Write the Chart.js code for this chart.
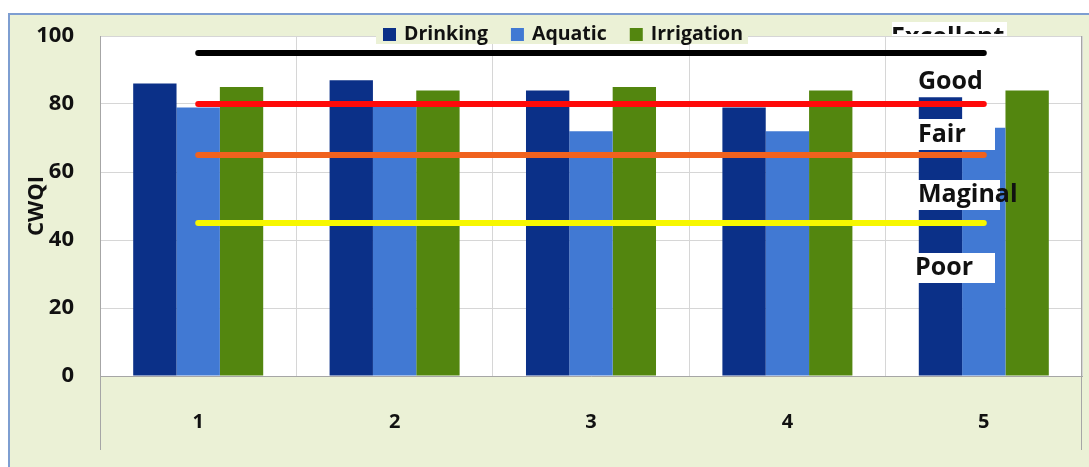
<!DOCTYPE html>
<html>
<head>
<meta charset="utf-8">
<script src="https://cdn.jsdelivr.net/npm/chart.js@4.4.0/dist/chart.umd.min.js"></script>
<style>
  html, body { margin: 0; padding: 0; background: #fff; }
</style>
</head>
<body>
<canvas id="cwqiChart" width="1089" height="467"></canvas>
<script>
// Data
const SITES = ['1', '2', '3', '4', '5'];
const DRINKING = [86, 87, 84, 79, 82];
const AQUATIC = [79, 80, 72, 72, 73];
const IRRIGATION = [85, 84, 85, 84, 84];

// Class boundaries drawn as horizontal lines
const EXCELLENT_LINE = [95, 95, 95, 95, 95];
const GOOD_LINE = [80, 80, 80, 80, 80];
const FAIR_LINE = [65, 65, 65, 65, 65];
const MARGINAL_LINE = [45, 45, 45, 45, 45];

const Y_TICKS = [0, 20, 40, 60, 80, 100];
const BAND_NAMES = ['Excellent', 'Good', 'Fair', 'Maginal', 'Poor'];

const FONT = '"Open Sans", "DejaVu Sans", sans-serif';
const TEXT_COLOR = '#111111';

function boundaryLine(label, data, color) {
    return {
        type: 'line',
        label: label,
        data: data,
        borderColor: color,
        backgroundColor: color,
        borderWidth: 6,
        borderCapStyle: 'round',
        pointRadius: 0,
        fill: false,
        order: 0
    };
}

function bars(label, data, color) {
    return {
        type: 'bar',
        label: label,
        data: data,
        backgroundColor: color,
        borderWidth: 0,
        barPercentage: 1,
        categoryPercentage: 0.662,
        order: 1
    };
}

// Frame, white plot area, legend and class labels
const framePlugin = {
    id: 'frame',
    beforeDraw(chart) {
        const { ctx, chartArea: a } = chart;
        ctx.save();
        ctx.fillStyle = '#ffffff';
        ctx.fillRect(0, 0, chart.width, chart.height);
        ctx.fillStyle = '#EBF1D6';
        ctx.fillRect(8, 13, chart.width - 8, chart.height - 13);
        ctx.strokeStyle = '#7E9ED1';
        ctx.lineWidth = 2;
        ctx.strokeRect(9, 14, chart.width, chart.height);
        ctx.fillStyle = '#ffffff';
        ctx.fillRect(a.left, a.top, a.right - a.left, a.bottom - a.top);
        ctx.restore();
    },
    afterDraw(chart) {
        const { ctx, chartArea: a } = chart;
        ctx.save();

        // axis lines running down into the label band
        ctx.strokeStyle = '#A6A6A6';
        ctx.lineWidth = 1;
        ctx.beginPath();
        ctx.moveTo(a.left + 0.5, a.bottom);
        ctx.lineTo(a.left + 0.5, 450);
        ctx.moveTo(a.right - 0.5, a.top);
        ctx.lineTo(a.right - 0.5, 450);
        ctx.stroke();

        // legend
        ctx.fillStyle = '#EBF1D6';
        ctx.fillRect(376, 18, 372, 26);
        ctx.font = 'bold 19.5px ' + FONT;
        ctx.textBaseline = 'middle';
        let x = 383;
        chart.data.datasets.filter(d => d.type === 'bar').forEach(d => {
            ctx.fillStyle = d.backgroundColor;
            ctx.fillRect(x, 28, 13, 13);
            x += 21;
            ctx.fillStyle = TEXT_COLOR;
            ctx.fillText(d.label, x, 34);
            x += ctx.measureText(d.label).width + 23;
        });

        // class labels in white boxes
        const boxes = [
            { x: 892, y: 22, w: 115, h: 14 },
            { x: 917, y: 70, w: 70, h: 23 },
            { x: 917, y: 119, w: 78, h: 31 },
            { x: 917, y: 180, w: 83, h: 30 },
            { x: 914, y: 253, w: 81, h: 30 }
        ];
        ctx.font = 'bold 25px ' + FONT;
        ctx.textBaseline = 'middle';
        BAND_NAMES.forEach((name, i) => {
            const b = boxes[i];
            ctx.fillStyle = '#ffffff';
            ctx.fillRect(b.x, b.y, b.w, b.h);
            ctx.fillStyle = TEXT_COLOR;
            if (i === 0) {
                ctx.save();
                ctx.beginPath();
                ctx.rect(b.x, b.y, b.w, 12);
                ctx.clip();
                ctx.fillText(name, 891, 38);
                ctx.restore();
            } else {
                ctx.fillText(name, b.x + 1, b.y + b.h / 2);
            }
        });

        ctx.restore();
    }
};

const ctx = document.getElementById('cwqiChart').getContext('2d');
new Chart(ctx, {
    data: {
        labels: SITES,
        datasets: [
            boundaryLine('Excellent', EXCELLENT_LINE, '#000000'),
            boundaryLine('Good', GOOD_LINE, '#FF0A0A'),
            boundaryLine('Fair', FAIR_LINE, '#F0621E'),
            boundaryLine('Marginal', MARGINAL_LINE, '#F7F700'),
            bars('Drinking', DRINKING, '#0B3088'),
            bars('Aquatic', AQUATIC, '#4179D3'),
            bars('Irrigation', IRRIGATION, '#53860F')
        ]
    },
    options: {
        responsive: false,
        animation: false,
        devicePixelRatio: 1,
        layout: { padding: { top: 36, right: 7, left: 0, bottom: 0 } },
        plugins: {
            legend: { display: false },
            tooltip: { enabled: false }
        },
        scales: {
            x: {
                grid: { offset: true, color: '#D6D6D6', drawTicks: false },
                border: { color: '#A6A6A6' },
                ticks: {
                    color: TEXT_COLOR,
                    padding: 34,
                    font: { family: FONT, size: 20, weight: 'bold' }
                },
                afterFit: s => { s.height = 91; }
            },
            y: {
                min: 0,
                max: 100,
                afterBuildTicks: s => { s.ticks = Y_TICKS.map(v => ({ value: v })); },
                // tick marks are invisible, they only push the labels left
                grid: { color: '#D6D6D6', drawTicks: true, tickLength: 18, tickColor: 'rgba(0,0,0,0)' },
                border: { color: '#A6A6A6' },
                ticks: {
                    color: TEXT_COLOR,
                    padding: 8,
                    font: { family: FONT, size: 22, weight: 'bold' }
                },
                title: {
                    display: true,
                    text: 'CWQI',
                    color: TEXT_COLOR,
                    padding: { top: 24, bottom: 0 },
                    font: { family: FONT, size: 22, weight: 'bold' }
                },
                afterFit: s => { s.width = 100; }
            }
        }
    },
    plugins: [framePlugin]
});
</script>
</body>
</html>
